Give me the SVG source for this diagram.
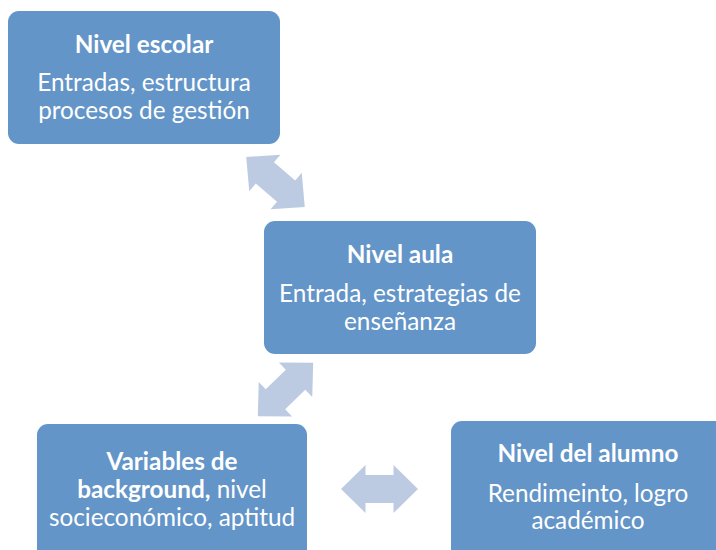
<svg xmlns="http://www.w3.org/2000/svg" width="716" height="550" viewBox="0 0 716 550">
<defs>
<style>
.box{fill:#6395c8;}
.arr{fill:#bccbe2;}
text{font-family:Lato,"Open Sans","Liberation Sans",sans-serif;fill:#ffffff;text-anchor:middle;font-size:24.3px;}
.t{font-weight:bold;font-size:24.3px;}
.b{font-weight:bold;}
</style>
<path id="dbl" d="M-38.5,0 L-14,-24 L-14,-14 L14,-14 L14,-24 L38.5,0 L14,24 L14,14 L-14,14 L-14,24 Z"/>
</defs>
<rect width="716" height="550" fill="#ffffff"/>
<g id="connectors">
<use href="#dbl" class="arr" transform="translate(275.5,182) rotate(40.5)"/>
<use href="#dbl" class="arr" transform="translate(285.5,389.5) rotate(-44)"/>
<use href="#dbl" class="arr" transform="translate(379.5,489)"/>
</g>
<g id="nivel-escolar">
<rect class="box" x="8" y="11" width="272" height="133" rx="11"/>
<text class="t" x="144" y="53">Nivel escolar</text>
<text x="144" y="91">Entradas, estructura</text>
<text x="144" y="118.5">procesos de gestión</text>
</g>
<g id="nivel-aula">
<rect class="box" x="264" y="221" width="272" height="133" rx="11"/>
<text class="t" x="400" y="263">Nivel aula</text>
<text x="400" y="302">Entrada, estrategias de</text>
<text x="400" y="329.5">enseñanza</text>
</g>
<g id="variables-background">
<rect class="box" x="37" y="424" width="270" height="140" rx="11"/>
<text class="t" x="172" y="470">Variables de</text>
<text x="172" y="498"><tspan class="b">background,</tspan> nivel</text>
<text x="172" y="526">socieconómico, aptitud</text>
</g>
<g id="nivel-alumno">
<rect class="box" x="451" y="421" width="280" height="140" rx="11"/>
<text class="t" x="588" y="462">Nivel del alumno</text>
<text x="588" y="501.5">Rendimeinto, logro</text>
<text x="588" y="529">académico</text>
</g>
</svg>
